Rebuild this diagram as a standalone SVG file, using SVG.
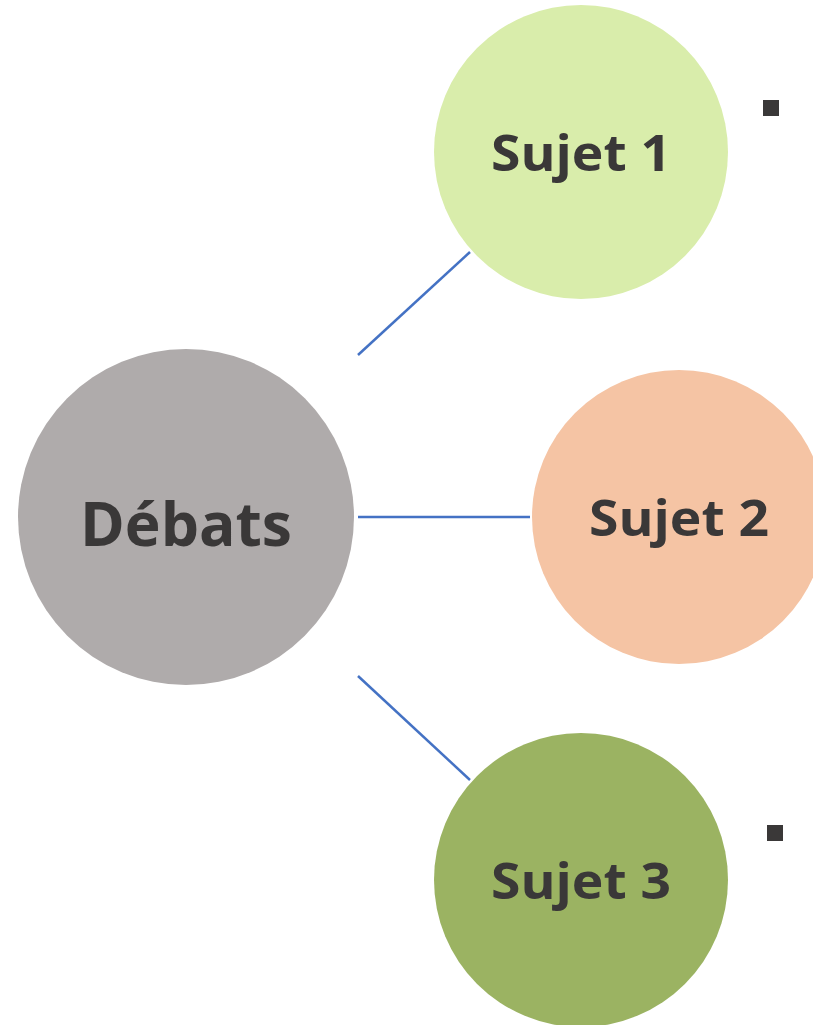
<svg xmlns="http://www.w3.org/2000/svg" width="813" height="1025" viewBox="0 0 813 1025">
<style>
.lbl{font-family:"Open Sans","Noto Sans","Liberation Sans",sans-serif;font-weight:bold;fill:#3a3838;text-anchor:middle}
.con{stroke:#4472c4;stroke-width:2.5;fill:none}
.bul{fill:#3a3838}
</style>
<rect width="813" height="1025" fill="#ffffff"/>
<g id="connectors">
<line class="con" x1="358" y1="355" x2="470" y2="252"/>
<line class="con" x1="358" y1="517" x2="530" y2="517"/>
<line class="con" x1="358" y1="676" x2="470" y2="780"/>
</g>
<g id="debats">
<circle cx="186" cy="517" r="168" fill="#afabab"/>
<text class="lbl" x="186" y="546" font-size="61" textLength="212" lengthAdjust="spacingAndGlyphs">Débats</text>
</g>
<g id="sujet1">
<circle cx="581" cy="152" r="147" fill="#d9edab"/>
<text class="lbl" x="581" y="171" font-size="51" textLength="180" lengthAdjust="spacingAndGlyphs">Sujet 1</text>
</g>
<g id="sujet2">
<circle cx="679" cy="517" r="147" fill="#f5c4a4"/>
<text class="lbl" x="679" y="536" font-size="51" textLength="180" lengthAdjust="spacingAndGlyphs">Sujet 2</text>
</g>
<g id="sujet3">
<circle cx="581" cy="880" r="147" fill="#9bb362"/>
<text class="lbl" x="581" y="899" font-size="51" textLength="180" lengthAdjust="spacingAndGlyphs">Sujet 3</text>
</g>
<g id="bullets">
<rect class="bul" x="763" y="100" width="16" height="16"/>
<rect class="bul" x="767" y="825" width="16" height="16"/>
</g>
</svg>
